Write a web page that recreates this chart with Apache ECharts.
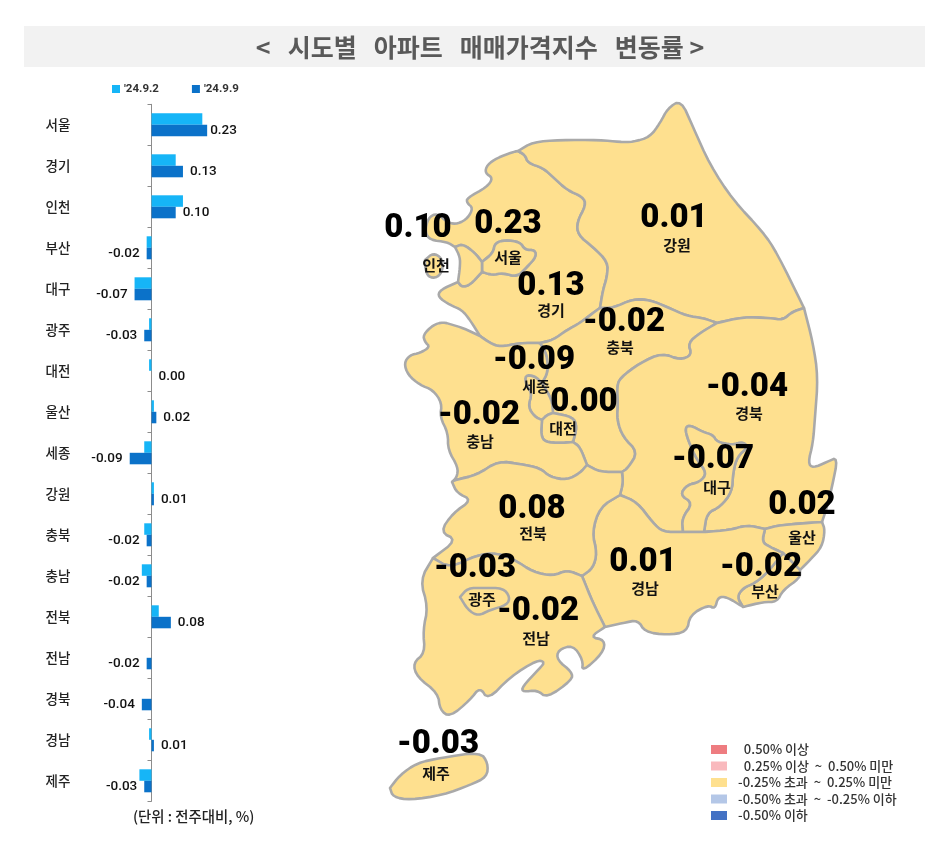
<!DOCTYPE html>
<html>
<head>
<meta charset="utf-8">
<title>시도별 아파트 매매가격지수 변동률</title>
<script src="https://cdn.jsdelivr.net/npm/echarts@6/dist/echarts.min.js"></script>
<style>
html,body{margin:0;padding:0;background:#fff;}
#main{width:939px;height:868px;}
</style>
</head>
<body>
<div id="main"></div>
<script>
// 시도별 변동률 (%)
var categories = ['서울','경기','인천','부산','대구','광주','대전','울산','세종','강원','충북','충남','전북','전남','경북','경남','제주'];
var valuesPrev = [0.21,0.10,0.13,-0.02,-0.07,-0.01,-0.01,0.01,-0.03,0.01,-0.03,-0.04,0.03,0,0,-0.01,-0.05];
var valuesCurr = [0.23,0.13,0.10,-0.02,-0.07,-0.03,0.00,0.02,-0.09,0.01,-0.02,-0.02,0.08,-0.02,-0.04,0.01,-0.03];
var seriesNames = ["'24.9.2","'24.9.9"];

// 지도 범례 구간
var pieceLabels = ['  0.50% 이상','  0.25% 이상  ~  0.50% 미만','-0.25% 초과  ~  0.25% 미만','-0.50% 초과  ~  -0.25% 이하','-0.50% 이하'];
var pieceColors = ['#ee7c80','#f9b9bd','#fee08f','#b4c7e7','#4472c4'];

// 지도 좌표 (세로축은 아래로 증가, geojson 만들때 뒤집음)
var arcs = {
  ggN:[[518,151],[513,152],[497,158],[487,165],[485,173],[493,178],[487,187],[467,198],[467,203],[473,208],[468,218],[458,224],[448,223],[437,213],[428,218],[425,232],[430,240],[447,242],[455,247]],
  inE:[[455,247],[463,244],[475,253],[482,262]],
  inSeoul:[[482,262],[482,272]],
  inS:[[482,272],[470,285],[462,287],[458,282]],
  inW:[[458,282],[460,267],[460,257],[455,247]],
  seoulO:[[482,262],[493,253],[495,243],[505,240],[520,242],[525,250],[535,250],[536,257],[527,267],[517,277],[503,273],[492,275],[482,272]],
  ggCoast:[[458,282],[440,290],[438,297],[450,305],[462,310],[470,320],[480,336]],
  ggCn:[[480,336],[490,343],[500,347],[520,343],[540,343]],
  ggCb:[[540,343],[553,340],[567,330],[580,323],[597,310],[600,308]],
  ggGw:[[518,151],[525,155],[528,163],[543,168],[553,177],[567,190],[583,197],[586,205],[577,222],[578,235],[593,247],[608,262],[607,277],[603,290],[600,308]],
  gwN:[[518,151],[533,142],[560,140],[600,140],[620,142],[633,142],[650,137],[660,123],[668,108],[681,100],[693,127],[710,165],[733,200],[763,232],[777,253],[804,308]],
  gwS1:[[600,308],[613,308],[633,299],[650,300],[667,307],[687,316],[703,318],[717,323]],
  gwS2:[[717,323],[743,317],[770,318],[783,320],[792,312],[804,308]],
  cbGb:[[717,323],[700,333],[688,343],[692,355],[680,360],[662,353],[640,363],[620,378],[617,387],[618,403],[617,420],[623,437],[638,452],[628,468],[622,472]],
  cbJb:[[587,465],[600,472],[622,472]],
  cbDj:[[573,442],[580,447],[587,465]],
  djE:[[553,413],[573,417],[577,427],[573,442]],
  djW:[[573,442],[560,443],[545,442],[541,435],[542,420]],
  djNW:[[542,420],[547,415],[553,413]],
  sjE:[[553,413],[552,400],[542,383]],
  sjW:[[542,383],[535,376],[525,375],[526,385],[532,393],[528,407],[535,417],[542,420]],
  cbCn:[[540,343],[547,355],[548,372],[542,383]],
  cnCoast:[[480,336],[463,328],[453,325],[443,322],[433,325],[423,335],[425,342],[430,347],[420,353],[410,355],[404,363],[408,375],[420,385],[433,390],[442,403],[440,417],[448,433],[448,450],[458,467],[457,477],[452,482]],
  cnJb:[[452,482],[455,480],[477,475],[498,461],[520,464],[540,468],[550,477],[567,480],[580,473],[587,465]],
  gbCoast:[[804,308],[813,343],[818,377],[815,417],[813,443],[808,463],[813,468],[827,462],[838,457],[832,487],[827,507],[822,522]],
  ulN:[[765,529],[780,525],[822,522]],
  gbS:[[620,495],[637,502],[653,523],[663,532],[683,532]],
  dgS:[[683,532],[704,532]],
  gbS2:[[704,532],[730,530],[747,525],[765,529]],
  gbJb:[[622,472],[623,483],[620,495]],
  dgN:[[683,532],[682,518],[693,503],[680,495],[687,485],[700,482],[707,473],[697,460],[688,440],[685,428],[690,425],[703,432],[713,435],[717,442],[732,445],[743,442],[748,447],[737,457],[733,473],[732,492],[720,507],[707,513],[704,532]],
  ulCoast:[[822,522],[825,530],[822,547],[810,560],[800,570]],
  ulBs:[[800,570],[783,553]],
  ulGn:[[783,553],[770,547],[762,542],[765,529]],
  bsCoast:[[800,570],[800,578],[783,590],[777,602],[763,602],[743,607]],
  bsGn:[[743,607],[737,597],[743,588],[755,583],[767,573],[783,553]],
  jbGn:[[620,495],[600,507],[592,532],[597,553],[593,568],[582,576]],
  jnGn:[[582,576],[593,603],[605,627]],
  gnCoast:[[605,627],[623,623],[638,620],[645,632],[667,635],[687,632],[690,615],[708,605],[715,609],[718,597],[727,597],[743,607]],
  jbCoast:[[452,482],[457,493],[472,500],[453,513],[440,532],[457,540],[433,558]],
  jbJn:[[433,558],[450,568],[477,555],[497,553],[515,560],[533,572],[553,576],[567,570],[582,576]],
  jnCoast:[[433,558],[420,580],[428,607],[423,630],[425,653],[413,663],[417,677],[438,693],[440,710],[450,717],[470,700],[480,687],[488,700],[510,677],[537,660],[545,662],[540,668],[522,687],[523,692],[537,690],[547,698],[572,680],[572,672],[557,660],[558,650],[573,645],[583,660],[582,672],[603,653],[605,640],[590,637],[605,627]]
};
// 닫힌 외곽 (섬, 내륙 광역시)
var rings = {
  island:[[425,260],[433,253],[442,258],[443,270],[437,278],[428,277],[425,267],[425,260]],
  gwangju:[[460,597],[468,588],[483,588],[503,588],[510,597],[507,605],[490,610],[478,616],[468,610],[460,597]],
  jeju:[[390,788],[400,775],[417,763],[440,758],[480,752],[488,763],[487,777],[470,785],[443,795],[410,800],[393,797],[390,788]]
};
// 지역별 경계 조합, '-' 는 역방향
var regionArcs = {
  '경기':['ggN','inE','seoulO','inS','ggCoast','ggCn','ggCb','-ggGw'],
  '서울':['seoulO','-inSeoul'],
  '인천':['inE','inSeoul','inS','inW'],
  '강원':['gwN','-gwS2','-gwS1','-ggGw'],
  '충북':['ggCb','gwS1','cbGb','-cbJb','-cbDj','-djE','-sjE','-cbCn'],
  '세종':['sjW','djNW','sjE'],
  '대전':['djE','djW','djNW'],
  '충남':['cnCoast','cnJb','-cbDj','djW','-sjW','-cbCn','-ggCn'],
  '경북':['cbGb','gbJb','gbS','dgN','gbS2','ulN','-gbCoast','-gwS2'],
  '대구':['dgN','-dgS'],
  '울산':['ulN','ulCoast','ulBs','ulGn'],
  '부산':['-ulBs','bsCoast','bsGn'],
  '경남':['gbS','dgS','gbS2','-ulGn','-bsGn','-gnCoast','-jnGn','-jbGn'],
  '전북':['jbCoast','jbJn','-jbGn','-gbJb','-cbJb','-cnJb'],
  '전남':['jnCoast','-jnGn','-jbJn']
};
// 수치, 지역명 위치
var valueAnchors = {'서울':[508,225],'경기':[551,287],'인천':[418,229],'강원':[674,219],'충북':[624,323],'세종':[534,361],'대전':[584,403],'충남':[479,416],'경북':[747,388],'대구':[713,460],'울산':[802,506],'전북':[532,510],'광주':[475,569],'전남':[538,612],'경남':[643,563],'부산':[761,568],'제주':[438,745]};
var nameAnchors = {'서울':[508,257],'경기':[551,310],'인천':[436,265],'강원':[677,245],'충북':[620,347],'세종':[536,386],'대전':[563,428],'충남':[480,441],'경북':[749,413],'대구':[717,487],'울산':[802,537],'전북':[533,533],'광주':[482,599],'전남':[536,638],'경남':[645,588],'부산':[765,591],'제주':[436,773]};

// 꺾인 선 부드럽게 (끝점 유지)
function chaikin(pts){
    var out=[pts[0]];
    for(var i=0;i<pts.length-1;i++){
        var a=pts[i],b=pts[i+1];
        out.push([a[0]*0.75+b[0]*0.25,a[1]*0.75+b[1]*0.25]);
        out.push([a[0]*0.25+b[0]*0.75,a[1]*0.25+b[1]*0.75]);
    }
    out.push(pts[pts.length-1]);
    return out;
}
function smooth(pts){
    return chaikin(chaikin(pts));
}
function flipY(pts){
    return pts.map(function(p){return [p[0],-p[1]];});
}
function buildRing(keys){
    var ring=[];
    keys.forEach(function(k){
        var rev=k.charAt(0)=='-';
        var pts=smooth(arcs[rev?k.slice(1):k]);
        if(rev)pts=pts.slice().reverse();
        ring=ring.concat(pts);
    });
    ring.push(ring[0]);
    return flipY(ring);
}
function closedRing(pts){
    return flipY(smooth(pts));
}
function polygonFeature(name,polys){
    return {type:'Feature',properties:{name:name},geometry:{type:'MultiPolygon',coordinates:polys.map(function(r){return [r];})}};
}
var features=[];
for(var key in regionArcs){
    var polys=[buildRing(regionArcs[key])];
    if(key=='인천')polys.push(closedRing(rings.island));
    features.push(polygonFeature(key,polys));
}
features.push(polygonFeature('광주',[closedRing(rings.gwangju)]));
features.push(polygonFeature('제주',[closedRing(rings.jeju)]));
echarts.registerMap('korea',{type:'FeatureCollection',features:features});

var regionData=categories.map(function(c,i){return {name:c,value:valuesCurr[i]};});
var valueLabels=categories.map(function(c,i){
    return {name:c,value:[valueAnchors[c][0],-valueAnchors[c][1],valuesCurr[i]]};
});
var nameLabels=categories.map(function(c){
    return {name:c,value:[nameAnchors[c][0],-nameAnchors[c][1]]};
});
var barLabels=valuesCurr.map(function(v,i){
    return {value:v,label:{position:v<0?'left':'right',distance:i==0?3:7}};
});

var chart=echarts.init(document.getElementById('main'));
var option={
    backgroundColor:'#fff',
    animation:false,
    graphic:[{type:'rect',shape:{x:24,y:26,width:901,height:41},style:{fill:'#f2f2f2'},silent:true}],
    title:[{
        text:'<   시도별   아파트   매매가격지수   변동률 >',
        left:475,top:30,textAlign:'center',
        textStyle:{fontFamily:'Noto Sans CJK KR',fontSize:25,fontWeight:'bold',color:'#595959'}
    },{
        text:'(단위 : 전주대비, %)',
        left:128,top:804,
        textStyle:{fontFamily:'Noto Sans CJK KR',fontSize:14.4,fontWeight:500,color:'#222'}
    }],
    legend:{
        data:seriesNames,left:107,top:78,icon:'rect',itemWidth:8,itemHeight:8,itemGap:33,selectedMode:false,
        textStyle:{fontFamily:'Roboto',fontSize:11.5,fontWeight:'bold',color:'#333',padding:[0,0,0,-1]}
    },
    grid:{left:127.3,top:104.3,width:96.8,height:697},
    xAxis:{type:'value',min:-0.1,max:0.3,show:false},
    yAxis:[{
        type:'category',data:categories,inverse:true,
        axisLine:{show:false,onZero:false},axisTick:{show:false},
        axisLabel:{margin:57,fontFamily:'Noto Sans CJK KR',fontSize:13.5,fontWeight:500,color:'#222'}
    },{
        type:'category',data:categories,inverse:true,position:'left',
        axisLine:{show:true,onZero:true,lineStyle:{color:'#8c8c8c',width:1}},
        axisTick:{show:true,length:4,lineStyle:{color:'#8c8c8c'}},
        axisLabel:{show:false}
    }],
    geo:{
        map:'korea',left:390,top:100,width:448,height:700,aspectScale:1,roam:false,silent:true,
        boundingCoords:[[390,-100],[838,-800]],
        label:{show:false},
        itemStyle:{areaColor:'#fee08f',borderColor:'#a9a9a9',borderWidth:2.6,borderJoin:'round'}
    },
    visualMap:{
        type:'piecewise',seriesIndex:2,left:696,top:728,orient:'vertical',align:'left',
        itemWidth:16,itemHeight:9,itemGap:3.5,textGap:11,itemSymbol:'rect',selectedMode:false,hoverLink:false,
        textStyle:{fontFamily:'Noto Sans CJK KR',fontSize:13,fontWeight:500,color:'#333'},
        pieces:[
            {gte:0.5,label:pieceLabels[0],color:pieceColors[0]},
            {gte:0.25,lt:0.5,label:pieceLabels[1],color:pieceColors[1]},
            {gt:-0.25,lt:0.25,label:pieceLabels[2],color:pieceColors[2]},
            {gt:-0.5,lte:-0.25,label:pieceLabels[3],color:pieceColors[3]},
            {lte:-0.5,label:pieceLabels[4],color:pieceColors[4]}
        ]
    },
    series:[{
        name:seriesNames[0],type:'bar',xAxisIndex:0,yAxisIndex:0,data:valuesPrev,
        barWidth:11.5,barGap:0,itemStyle:{color:'#16b5f7'}
    },{
        name:seriesNames[1],type:'bar',xAxisIndex:0,yAxisIndex:0,data:barLabels,
        barWidth:11.5,barGap:0,itemStyle:{color:'#0b72c9'},
        label:{
            show:true,
            fontFamily:'Roboto',fontSize:13.5,fontWeight:500,color:'#111',
            formatter:function(p){return p.value.toFixed(2);}
        }
    },{
        type:'map',geoIndex:0,data:regionData
    },{
        type:'scatter',coordinateSystem:'geo',symbolSize:1,itemStyle:{color:'transparent',opacity:1},silent:true,z:5,
        data:valueLabels,
        label:{
            show:true,position:'inside',
            fontFamily:'Roboto',fontSize:33,fontWeight:900,color:'#000',textBorderWidth:0,
            formatter:function(p){return p.value[2].toFixed(2);}
        }
    },{
        type:'scatter',coordinateSystem:'geo',symbolSize:1,itemStyle:{color:'transparent',opacity:1},silent:true,z:5,
        data:nameLabels,
        label:{
            show:true,position:'inside',textBorderWidth:0,
            fontFamily:'Noto Sans CJK KR',fontSize:15,fontWeight:'bold',color:'#111',
            formatter:'{b}'
        }
    }]
};
chart.setOption(option);
</script>
</body>
</html>
